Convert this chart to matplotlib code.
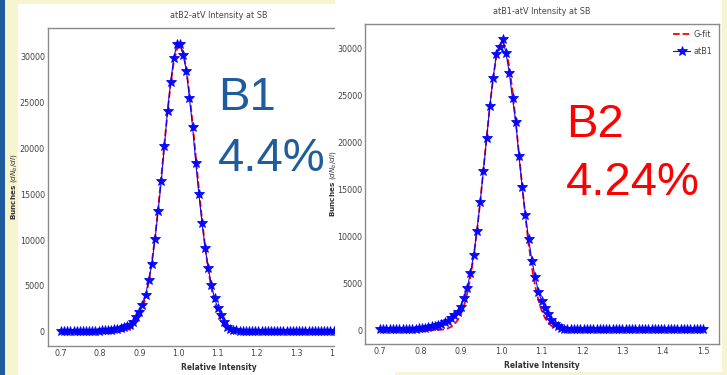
import numpy as np
import matplotlib
matplotlib.use("Agg")
import matplotlib.pyplot as plt
from matplotlib import font_manager
from matplotlib.font_manager import FontProperties
from matplotlib.patches import Rectangle

# ---- data -----------------------------------------------------------------
rel_intensity = np.round(np.linspace(0.7, 1.5, 101), 3)

# left plot: atB2-atV
b1_counts = [
    70, 72, 74, 76, 78, 80, 82, 85, 88, 92,
    95, 100, 120, 140, 160, 190, 220, 260, 310, 380,
    470, 600, 780, 1100, 1650, 2190, 2920, 4010, 5650, 7390,
    10080, 13170, 16440, 20250, 24100, 27260, 29810, 31400, 31350, 30170,
    28460, 25450, 22360, 18430, 15020, 11890, 9170, 6920, 5100, 3650,
    2630, 1830, 1100, 560, 350, 220, 150, 110, 90, 82,
    80, 80, 80, 80, 80, 80, 80, 80, 80, 80,
    80, 80, 80, 80, 80, 80, 80, 80, 80, 80,
    80, 80, 80, 80, 80, 80, 80, 80, 80, 80,
    80, 80, 80, 80, 80, 80, 80, 80, 80, 80,
    80,
]
b1_fit = [
    0, 0, 0, 0, 0, 0, 0, 0, 0, 0,
    0, 0, 0, 0, 0, 2, 6, 12, 25, 51,
    99, 185, 334, 583, 979, 1588, 2483, 3742, 5441, 7626,
    10312, 13444, 16904, 20498, 23968, 27029, 29394, 30829, 31181, 30411,
    28607, 25949, 22701, 19151, 15578, 12224, 9248, 6749, 4749, 3223,
    2109, 1329, 811, 474, 269, 147, 77, 39, 19, 9,
    4, 0, 0, 0, 0, 0, 0, 0, 0, 0,
    0, 0, 0, 0, 0, 0, 0, 0, 0, 0,
    0, 0, 0, 0, 0, 0, 0, 0, 0, 0,
    0, 0, 0, 0, 0, 0, 0, 0, 0, 0,
    0,
]

# right plot: atB1-atV
b2_counts = [
    100, 100, 105, 105, 110, 115, 120, 125, 130, 140,
    150, 170, 190, 220, 260, 350, 420, 490, 580, 690,
    830, 1020, 1280, 1580, 1980, 2510, 3400, 4470, 6130, 8010,
    10600, 13620, 17000, 20430, 23870, 26810, 29370, 30110, 30990, 29470,
    27410, 24680, 22200, 18550, 15280, 12270, 9680, 7410, 5700, 4110,
    3120, 2340, 1700, 1100, 670, 420, 260, 170, 130, 110,
    100, 100, 100, 100, 100, 100, 100, 100, 100, 100,
    100, 100, 100, 100, 100, 100, 100, 100, 100, 100,
    100, 100, 100, 100, 100, 100, 100, 100, 100, 100,
    100, 100, 100, 100, 100, 100, 100, 100, 100, 100,
    100,
]
b2_fit = [
    0, 0, 0, 0, 0, 0, 0, 0, 0, 0,
    0, 0, 0, 0, 0, 3, 7, 14, 30, 59,
    113, 208, 371, 638, 1061, 1700, 2629, 3924, 5652, 7856,
    10539, 13643, 17042, 20544, 23903, 26835, 29073, 30393, 30666, 29859,
    28054, 25438, 22261, 18798, 15316, 12047, 9142, 6696, 4731, 3227,
    2124, 1348, 826, 489, 279, 154, 82, 42, 21, 10,
    5, 0, 0, 0, 0, 0, 0, 0, 0, 0,
    0, 0, 0, 0, 0, 0, 0, 0, 0, 0,
    0, 0, 0, 0, 0, 0, 0, 0, 0, 0,
    0, 0, 0, 0, 0, 0, 0, 0, 0, 0,
    0,
]

x_ticks = [0.7, 0.8, 0.9, 1.0, 1.1, 1.2, 1.3, 1.4, 1.5]
y_ticks = [0, 5000, 10000, 15000, 20000, 25000, 30000]

titles = ["atB2-atV Intensity at SB", "atB1-atV Intensity at SB"]
fit_label = "G-fit"
data_label = "atB1"
tag_left = ["B1", "4.4%"]
tag_right = ["B2", "4.24%"]

# ---- fonts ----------------------------------------------------------------
_pref = ["Liberation Sans Narrow", "DejaVu Sans", "Noto Sans", "Open Sans",
         "Roboto", "Lato", "Inter"]


def condensed_file(bold):
    """Pick a narrow sans face for the small labels, if one is installed."""
    best = None
    for f in font_manager.fontManager.ttflist:
        if f.style != "normal":
            continue
        if "condensed" not in str(f.stretch) and "Narrow" not in f.name:
            continue
        w = f.weight if isinstance(f.weight, int) else (700 if f.weight == "bold" else 400)
        if (w >= 600) != bold or w in (100, 200, 300, 800, 900):
            continue
        rank = _pref.index(f.name) if f.name in _pref else len(_pref)
        key = (rank, 0 if f.stretch == "condensed" else 1)
        if best is None or key < best[0]:
            best = (key, f.fname)
    return best[1] if best else None


_reg = condensed_file(False)
_bold = condensed_file(True)


def small(size, bold=False):
    path = _bold if bold else _reg
    if path:
        return FontProperties(fname=path, size=size)
    return FontProperties(family="DejaVu Sans", size=size * 0.85,
                          weight="bold" if bold else "normal")


big_font = "Liberation Sans"

W, H = 727, 375
fig = plt.figure(figsize=(W / 100, H / 100), dpi=100)
fig.patch.set_facecolor("#f7f5cf")


def box(x0, y0, x1, y1):
    """Pixel box (top-left origin) -> figure rect."""
    return [x0 / W, 1 - y1 / H, (x1 - x0) / W, (y1 - y0) / H]


# slide decorations
fig.patches.append(Rectangle((0, 0), 5 / W, 1, transform=fig.transFigure,
                             facecolor="#1f5c9e", edgecolor="none", zorder=0))
fig.patches.append(Rectangle((18 / W, 0), (395 - 18) / W, (H - 4) / H,
                             transform=fig.transFigure, facecolor="white",
                             edgecolor="none", zorder=0))


def style_axes(ax, title, xticks, xlim, ylim, ylabel_x):
    ax.set_xlim(*xlim)
    ax.set_ylim(*ylim)
    ax.set_xticks(xticks)
    ax.set_yticks(y_ticks)
    ax.tick_params(length=0, labelcolor="#444444")
    ax.tick_params(axis="x", pad=2.5)
    ax.tick_params(axis="y", pad=2)
    for lab in ax.get_xticklabels() + ax.get_yticklabels():
        lab.set_fontproperties(small(6.4))
    for sp in ax.spines.values():
        sp.set_color("#8a8a8a")
        sp.set_linewidth(1.0)
    ax.set_title(title, fontproperties=small(6.5), color="#444444", pad=7)
    ax.set_xlabel("Relative Intensity", fontproperties=small(6, bold=True),
                  color="#333333", labelpad=3)
    ax.set_ylabel("Bunches $(dN_b/dI)$", fontsize=5.2, family="DejaVu Sans",
                  fontweight="bold", color="#333333")
    ax.yaxis.set_label_coords(ylabel_x, 0.5)


def draw_curves(ax, counts, fit):
    f, = ax.plot(rel_intensity, fit, "r--", lw=1.3, zorder=2, label=fit_label)
    d, = ax.plot(rel_intensity, counts, color="blue", lw=0.8, marker="*",
                 ms=7, mec="blue", mew=0.6, alpha=0.95, zorder=3, label=data_label)
    return f, d


# left plot (its right part lies under the right plot's sheet)
ax1 = fig.add_axes(box(47.7, 28, 390, 346), zorder=1)
draw_curves(ax1, b1_counts, b1_fit)
style_axes(ax1, titles[0], x_ticks[:-1], (0.666, 1.54), (-1550, 33110),
           (19.5 - 47.7) / 342.3)

# white sheet of the right plot
cover = fig.add_axes(box(335, 0, 722, 372), zorder=1.5)
cover.set_facecolor("white")
cover.set_xticks([])
cover.set_yticks([])
for sp in cover.spines.values():
    sp.set_visible(False)

# right plot
ax2 = fig.add_axes(box(365, 24, 719, 344), zorder=2)
f2, d2 = draw_curves(ax2, b2_counts, b2_fit)
style_axes(ax2, titles[1], x_ticks, (0.663, 1.539), (-1460, 32590),
           (337.5 - 365) / 354)
leg = ax2.legend(handles=[f2, d2], loc="upper right", frameon=False,
                 prop=small(6.5), handlelength=1.9,
                 handletextpad=0.4, labelspacing=0.9, borderaxespad=0.3,
                 numpoints=1)
for t in leg.get_texts():
    t.set_color("#444444")

# large annotations
fig.text(218 / W, 1 - 110 / H, tag_left[0], fontsize=34, family=big_font,
         color="#1f5c9e", va="baseline", ha="left", zorder=5)
fig.text(218 / W, 1 - 171 / H, tag_left[1], fontsize=34, family=big_font,
         color="#1f5c9e", va="baseline", ha="left", zorder=5)
fig.text(566 / W, 1 - 137 / H, tag_right[0], fontsize=34, family=big_font,
         color="#ff0000", va="baseline", ha="left", zorder=5)
fig.text(566 / W, 1 - 195 / H, tag_right[1], fontsize=34, family=big_font,
         color="#ff0000", va="baseline", ha="left", zorder=5)

fig.savefig("out.png", dpi=100, facecolor=fig.get_facecolor())
